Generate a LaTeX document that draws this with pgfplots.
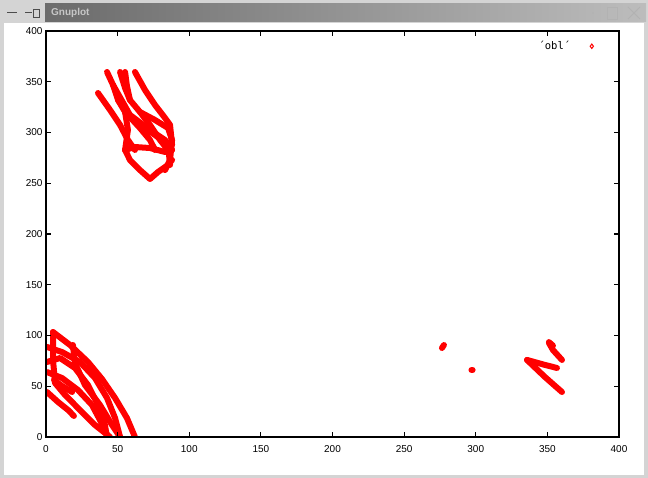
\documentclass[border=0pt]{standalone}
\usepackage{pgfplots}
\pgfplotsset{compat=1.18}
\usepackage{fontspec}
\setmainfont{Liberation Sans}
\newfontfamily\monofont{DejaVu Sans Mono}
\begin{document}
\begin{tikzpicture}[x=1pt,y=1pt]
% window frame
\fill[black!17] (0,0) rectangle (648,478);
\fill[white] (4,3) rectangle (644,455);
\shade[left color=black!58, right color=black!26] (45,456) rectangle (646,474);
\node[anchor=west, text=black!22, font=\bfseries\fontsize{10}{12}\selectfont, inner sep=0pt] at (51,465) {Gnuplot};
\draw[black!70, line width=1pt] (7,465) -- (17,465);
\draw[black!70, line width=1pt] (25,465) -- (32,465);
\draw[black!70, line width=0.8pt] (33,461) rectangle (39,469);
\fill[black!30] (593,465) circle (0.8);
\draw[black!30, line width=0.9pt] (607,459) rectangle (617,471);
\draw[black!30, line width=0.9pt] (628,459) -- (640,471) (628,471) -- (640,459);
\begin{axis}[
  at={(46pt,41pt)}, anchor=origin,
  scale only axis, width=573pt, height=406pt,
  xmin=0, xmax=400, ymin=0, ymax=400,
  xtick={0,50,...,400}, ytick={0,50,...,400},
  xtick pos=both, ytick pos=both,
  tick align=inside, major tick length=5pt,
  axis line style={line width=1.5pt},
  major tick style={line width=1.2pt, black},
  axis on top,
  /pgf/number format/assume math mode=true,
  ticklabel style={font=\fontsize{10}{12}\selectfont},
  xticklabel style={yshift=-5pt},
  legend style={at={(axis cs:383,393)}, anchor=north east, draw=none, fill=none,
    font=\monofont\fontsize{10.5}{12}\selectfont, inner sep=1pt, column sep=18pt},
  legend plot pos=right,
  strand/.style={red, line width=6pt, line join=round, line cap=round, mark=none, forget plot},
]
\addlegendimage{only marks, mark=diamond, mark size=2.2pt, red, line width=1pt}
\addlegendentry{´obl´}
% ---- top cluster
\addplot[strand] coordinates {(36.3,338.9) (44.7,322.2) (51.7,307.4) (57.2,292.6) (62.1,282.8)};
\addplot[strand] coordinates {(42.6,359.6) (46.8,346.8) (50.3,332.0) (55.2,320.2) (65.6,307.4) (76.1,297.5) (85.2,287.7) (86.6,268.0)};
\addplot[strand] coordinates {(51.7,359.6) (55.2,343.8) (58.6,332.0) (65.6,320.2) (76.1,312.3) (85.2,304.4) (88.0,292.6) (86.6,272.9) (83.1,263.0)};
\addplot[strand] coordinates {(55.2,359.6) (56.5,345.8) (58.6,332.0)};
\addplot[strand] coordinates {(62.1,359.6) (69.1,341.9) (76.1,327.1) (83.1,314.3) (86.6,307.4) (88.0,287.7)};
\addplot[strand] coordinates {(55.2,282.8) (58.6,272.9) (65.6,263.0) (72.6,254.2) (78.2,261.1) (85.2,268.0) (88.0,272.9)};
\addplot[strand] coordinates {(55.2,282.8) (62.1,285.7) (72.6,284.7) (83.1,280.8) (88.0,282.8)};
\addplot[strand] coordinates {(50.3,332.0) (57.2,317.3) (65.6,304.4) (72.6,292.6) (76.1,282.8)};
\addplot[strand] coordinates {(55.2,320.2) (57.2,302.5) (55.2,282.8)};
\addplot[strand] coordinates {(46.8,346.8) (58.6,317.3) (72.6,302.5) (83.1,292.6) (88.0,282.8)};
\addplot[strand] coordinates {(65.6,320.2) (72.6,307.4) (79.6,292.6) (85.2,282.8)};
% ---- bottom-left cluster
\addplot[strand] coordinates {(4.9,103.4) (16.8,90.6) (29.3,73.9) (39.1,57.1) (48.2,38.4) (56.5,18.7) (62.1,0)};
\addplot[strand] coordinates {(0.7,88.7) (11.2,83.7) (23.7,73.9) (34.2,58.1) (42.6,38.4) (48.2,18.7) (51.7,0)};
\addplot[strand] coordinates {(0.7,73.9) (9.8,77.8) (20.2,68.0) (29.3,51.2) (36.3,31.5) (40.5,16.7) (42.6,0)};
\addplot[strand] coordinates {(0.7,64.0) (11.2,58.1) (22.3,46.3) (32.1,31.5) (37.7,16.7) (43.3,0)};
\addplot[strand] coordinates {(4.9,103.4) (4.9,75.9) (6.3,53.2) (13.3,41.4) (23.7,26.6) (34.2,11.8) (44.7,0)};
\addplot[strand] coordinates {(18.8,90.6) (20.2,72.9) (27.2,51.2) (37.7,31.5) (46.1,11.8) (51.7,0)};
\addplot[strand] coordinates {(0.7,44.3) (8.4,34.5) (15.4,26.6) (19.5,20.7)};
\addplot[strand] coordinates {(5.6,56.2) (11.2,50.2) (18.2,44.3)};
% ---- right cluster
\addplot[strand] coordinates {(276.4,87.7) (277.8,90.6)};
\addplot[strand] coordinates {(297.0,66.0) (297.8,66.0)};
\addplot[strand] coordinates {(335.8,75.9) (348.3,71.0) (356.7,68.0)};
\addplot[strand] coordinates {(335.8,75.9) (348.3,59.1) (360.2,44.3)};
\addplot[strand] coordinates {(351.1,92.6) (353.9,85.7) (360.2,75.9)};
\addplot[strand] coordinates {(351.1,93.5) (353.9,90.0)};
\end{axis}
\end{tikzpicture}
\end{document}
